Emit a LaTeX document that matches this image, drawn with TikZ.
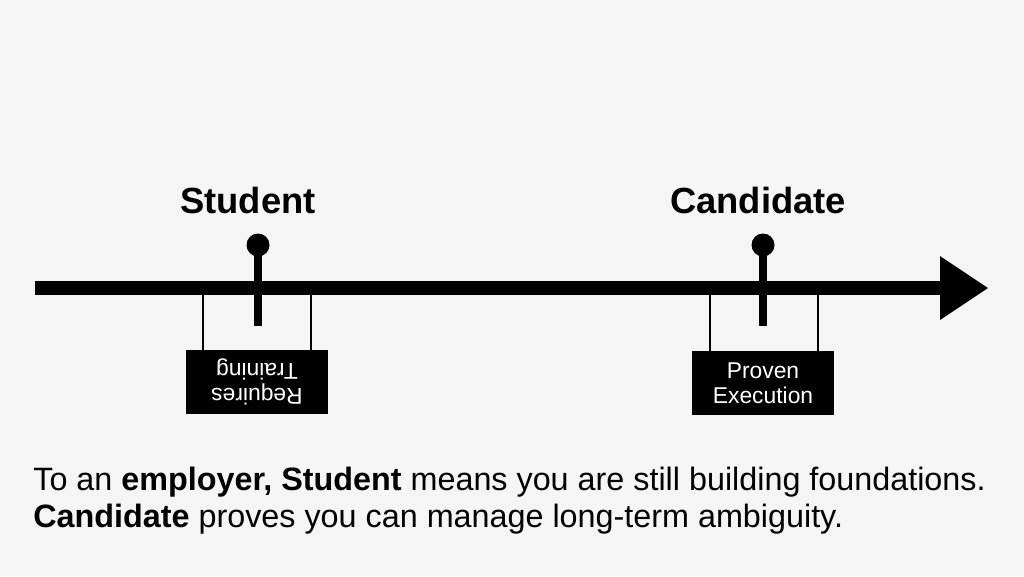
\documentclass[tikz,border=0pt]{standalone}
\usepackage{fontspec}
\setmainfont{Liberation Sans}
\usetikzlibrary{positioning}
\begin{document}
\begin{tikzpicture}[x=0.02cm,y=-0.02cm]
	\tikzstyle{milestone} = [font=\fontsize{20.7}{24}\selectfont\bfseries]
	\tikzstyle{tag} = [fill=black, text=white, minimum width=2.84cm, minimum height=1.28cm, align=center, inner sep=0pt, font=\fontsize{13}{14.5}\selectfont]
	\tikzstyle{hanger} = [line width=0.9pt]
	\tikzstyle{pin} = [line width=0.16cm]
	\fill[white!96!black] (0,0) rectangle (1024,576);
	% timeline
	\coordinate (start) at (35,288);
	\coordinate (shaft) at (945,288);
	\draw [line width=0.28cm] (start) -- (shaft);
	\fill (940,256) -- (988,288) -- (940,320) -- cycle;
	% student
	\node (student) [milestone] at (248,200) {Student};
	\node (studentDot) [circle, fill, minimum size=0.46cm, inner sep=0pt] at (258,245) {};
	\coordinate (studentEnd) at (258,326);
	\draw [pin] (studentDot.center) -- (studentEnd);
	\node (training) [tag, rotate=180] at (257,382) {Requires\\Training};
	\coordinate (trainingL) at (203,350);
	\coordinate (trainingR) at (311,350);
	\draw [hanger] (trainingL |- start) -- (trainingL);
	\draw [hanger] (trainingR |- start) -- (trainingR);
	% candidate
	\node (candidate) [milestone] at (758,200) {Candidate};
	\node (candidateDot) [circle, fill, minimum size=0.46cm, inner sep=0pt] at (763,245) {};
	\coordinate (candidateEnd) at (763,326);
	\draw [pin] (candidateDot.center) -- (candidateEnd);
	\node (execution) [tag] at (763,383) {Proven\\Execution};
	\coordinate (executionL) at (710,351);
	\coordinate (executionR) at (818,351);
	\draw [hanger] (executionL |- start) -- (executionL);
	\draw [hanger] (executionR |- start) -- (executionR);
	% caption
	\node (caption) [anchor=north west, align=left, inner sep=0pt, font=\fontsize{18.4}{21}\selectfont] at (33,467)
		{To an \textbf{employer, Student} means you are still building foundations.\\
		\textbf{Candidate} proves you can manage long-term ambiguity.};
\end{tikzpicture}
\end{document}
